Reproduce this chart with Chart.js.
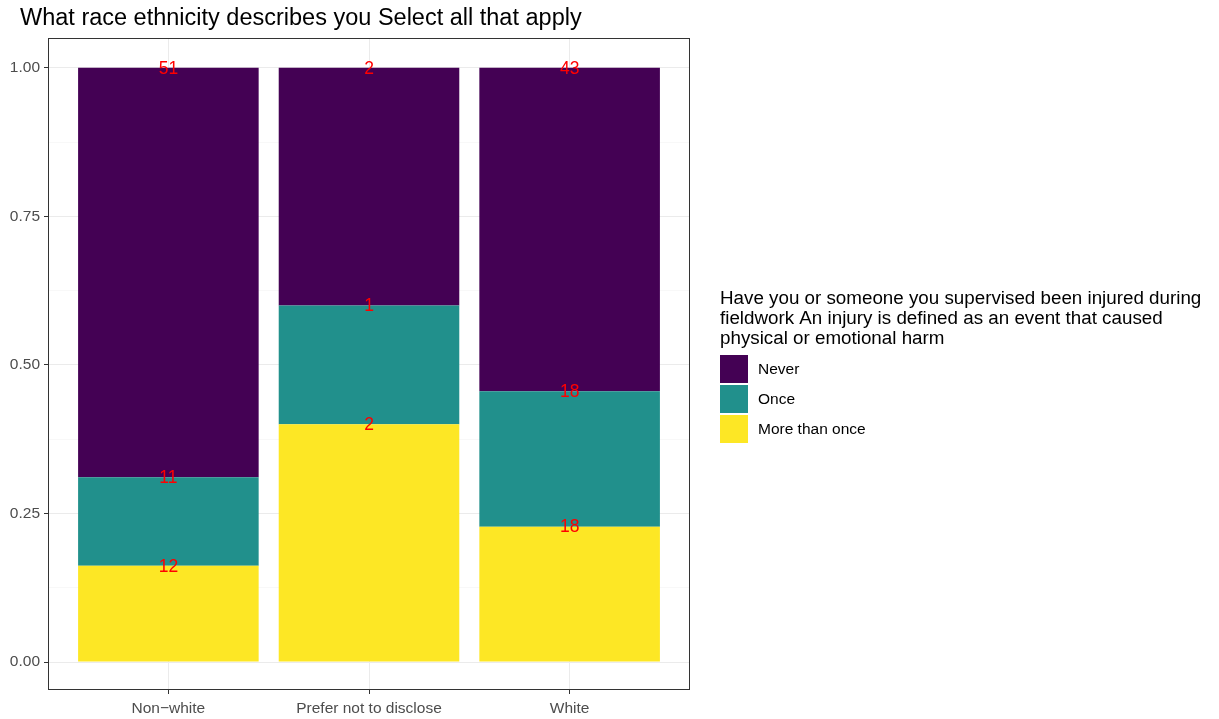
<!DOCTYPE html>
<html>
<head>
<meta charset="utf-8">
<script src="https://cdn.jsdelivr.net/npm/chart.js@4"></script>
<style>
  html, body { margin: 0; padding: 0; background: #fff; }
  #wrap { width: 1219px; height: 719px; }
</style>
</head>
<body>
<div id="wrap"><canvas id="chart" width="1219" height="719"></canvas></div>
<script>
// Datos del gráfico
const categories = ['Non\u2212white', 'Prefer not to disclose', 'White'];
const responses = ['More than once', 'Once', 'Never'];
const moreThanOnce = [12, 2, 18];
const once = [11, 1, 18];
const never = [51, 2, 43];
const colors = ['#FDE725', '#21908C', '#440154'];
const yTicks = [0, 0.25, 0.5, 0.75, 1];

const counts = [moreThanOnce, once, never];
const totals = categories.map((c, j) => counts.reduce((s, arr) => s + arr[j], 0));

const FONT = "'Liberation Sans', Arial, Helvetica, sans-serif";

const datasets = responses.map((name, i) => ({
    label: name,
    data: categories.map((c, j) => ({ x: j + 1, y: counts[i][j] / totals[j] })),
    backgroundColor: colors[i],
    borderWidth: 0,
    barPercentage: 0.9,
    categoryPercentage: 1.0
}));

// Título, borde del panel, etiquetas y leyenda
const extras = {
    id: 'extras',
    afterDatasetsDraw(chart) {
        const ctx = chart.ctx;
        ctx.save();
        ctx.fillStyle = '#FF0000';
        ctx.font = `17.5px ${FONT}`;
        ctx.textAlign = 'center';
        ctx.textBaseline = 'middle';
        chart.data.datasets.forEach((ds, i) => {
            const meta = chart.getDatasetMeta(i);
            meta.data.forEach((el, j) => {
                ctx.fillText(String(counts[i][j]), el.x, el.y + 1);
            });
        });
        ctx.restore();
    },
    afterDraw(chart) {
        const ctx = chart.ctx;
        const a = chart.chartArea;
        ctx.save();
        // borde del panel
        ctx.strokeStyle = '#333333';
        ctx.lineWidth = 1;
        ctx.strokeRect(a.left + 0.5, a.top + 0.5, a.right - a.left - 1, a.bottom - a.top - 1);

        // título
        ctx.fillStyle = '#000';
        ctx.font = `23.5px ${FONT}`;
        ctx.textAlign = 'left';
        ctx.textBaseline = 'middle';
        ctx.fillText('What race ethnicity describes you Select all that apply', 20, 19);

        // leyenda
        const lx = 720;
        ctx.font = `18.8px ${FONT}`;
        const titleLines = [
            'Have you or someone you supervised been injured during',
            'fieldwork An injury is defined as an event that caused',
            'physical or emotional harm'
        ];
        titleLines.forEach((t, k) => ctx.fillText(t, lx, 299 + k * 20));
        ctx.font = `15.5px ${FONT}`;
        const order = [2, 1, 0];
        order.forEach((i, k) => {
            const ky = 355 + k * 30;
            ctx.fillStyle = colors[i];
            ctx.fillRect(lx, ky, 28, 28);
            ctx.fillStyle = '#000';
            ctx.fillText(responses[i], 758, ky + 15);
        });
        ctx.restore();
    }
};

new Chart(document.getElementById('chart'), {
    type: 'bar',
    data: { datasets },
    options: {
        responsive: false,
        animation: false,
        layout: { padding: { top: 38, right: 529, left: 0, bottom: 0 } },
        plugins: {
            legend: { display: false },
            title: { display: false },
            tooltip: { enabled: false }
        },
        scales: {
            x: {
                type: 'linear',
                stacked: true,
                offset: false,
                min: 0.4,
                max: 3.6,
                afterBuildTicks: s => { s.ticks = [1, 2, 3].map(v => ({ value: v })); },
                afterFit: s => { s.height = 29; },
                ticks: {
                    callback: v => categories[v - 1],
                    color: '#4D4D4D',
                    font: { family: FONT, size: 15.5 },
                    padding: 5,
                    maxRotation: 0,
                    autoSkip: false
                },
                grid: { offset: false, color: '#EBEBEB', tickColor: '#333333', tickLength: 4, lineWidth: 1 },
                border: { display: false }
            },
            y: {
                stacked: true,
                min: -0.047,
                max: 1.05,
                afterBuildTicks: s => {
                    const t = [];
                    for (let k = 0; k <= 8; k++) t.push({ value: k * 0.125 });
                    s.ticks = t;
                },
                afterFit: s => { s.width = 48; },
                ticks: {
                    callback: v => yTicks.some(t => Math.abs(t - v) < 1e-9) ? v.toFixed(2) : '',
                    color: '#4D4D4D',
                    font: { family: FONT, size: 15.5 },
                    padding: 4
                },
                grid: {
                    color: c => (Math.round(c.tick.value * 8) % 2 === 0) ? '#EBEBEB' : '#F5F5F5',
                    tickColor: c => (Math.round(c.tick.value * 8) % 2 === 0) ? '#333333' : 'rgba(0,0,0,0)',
                    lineWidth: c => (Math.round(c.tick.value * 8) % 2 === 0) ? 1 : 0.7,
                    tickLength: 4
                },
                border: { display: false }
            }
        }
    },
    plugins: [extras]
});
</script>
</body>
</html>
